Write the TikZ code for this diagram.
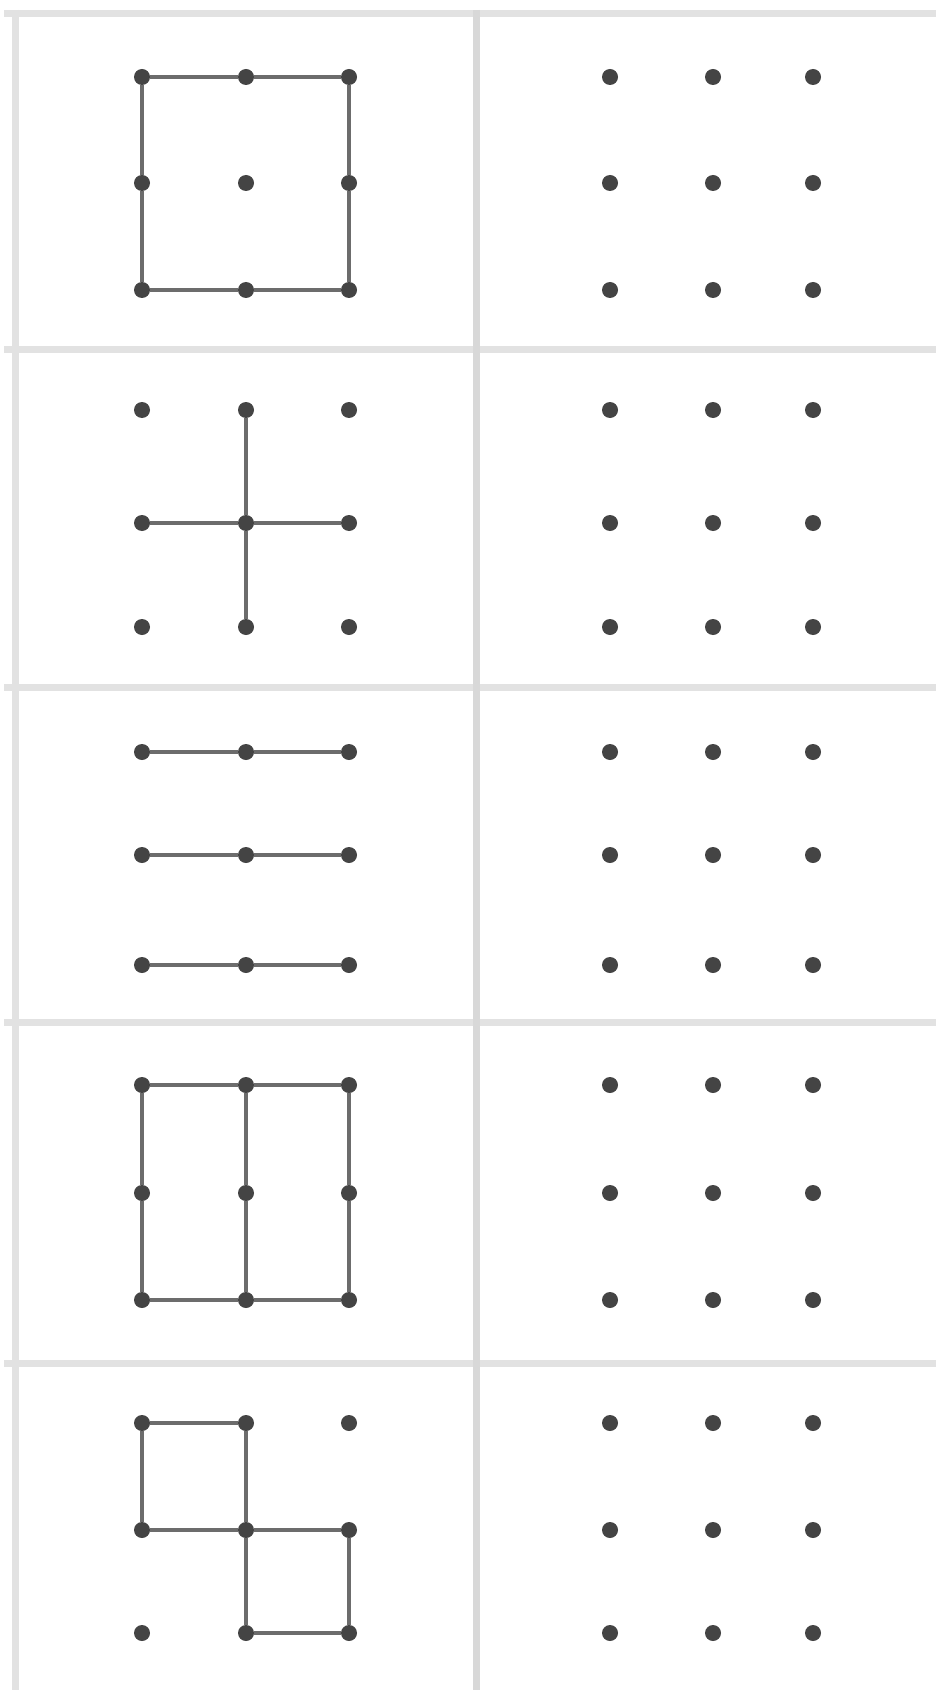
\documentclass[tikz,border=0pt]{standalone}
\definecolor{dotgray}{HTML}{444444}
\definecolor{linkgray}{HTML}{6C6C6C}
\definecolor{rulegray}{HTML}{E2E2E2}
\definecolor{midrule}{HTML}{D8D8D8}
\tikzset{
  dot/.style={circle,fill=dotgray,inner sep=0pt,minimum size=8pt},
  link/.style={draw=linkgray,line width=2.4pt},
  gridrule/.style={draw=rulegray,line width=3.5pt},
}
\begin{document}
\begin{tikzpicture}[x=0.5pt,y=-0.5pt]
\useasboundingbox (0,0) rectangle (936,1690);
\fill[white] (0,0) rectangle (936,1690);
% table rules
\foreach \y in {14,350,687,1022,1363}{
  \draw[gridrule] (4,\y) -- (936,\y);
}
\draw[gridrule] (15,10) -- (15,1690);
\draw[gridrule,draw=midrule] (476,10) -- (476,1690);
% dots
\foreach \r/\ya/\yb/\yc in {1/77/183/290,2/410/523/627,3/752/855/965,4/1085/1193/1300,5/1423/1530/1633}{
  \foreach \j/\xl/\xr in {1/142/610,2/246/713,3/349/813}{
    \node[dot] (L\r-1-\j) at (\xl,\ya) {};
    \node[dot] (L\r-2-\j) at (\xl,\yb) {};
    \node[dot] (L\r-3-\j) at (\xl,\yc) {};
    \node[dot] (R\r-1-\j) at (\xr,\ya) {};
    \node[dot] (R\r-2-\j) at (\xr,\yb) {};
    \node[dot] (R\r-3-\j) at (\xr,\yc) {};
  }
}
% row 1: square
\draw[link] (L1-1-1) -- (L1-1-2) -- (L1-1-3) -- (L1-2-3) -- (L1-3-3) -- (L1-3-2) -- (L1-3-1) -- (L1-2-1) -- (L1-1-1);
% row 2: plus
\draw[link] (L2-1-2) -- (L2-2-2) -- (L2-3-2);
\draw[link] (L2-2-1) -- (L2-2-2) -- (L2-2-3);
% row 3: three horizontals
\foreach \i in {1,2,3}{
  \draw[link] (L3-\i-1) -- (L3-\i-2) -- (L3-\i-3);
}
% row 4
\draw[link] (L4-1-1) -- (L4-1-2) -- (L4-1-3);
\draw[link] (L4-3-1) -- (L4-3-2) -- (L4-3-3);
\foreach \j in {1,2,3}{
  \draw[link] (L4-1-\j) -- (L4-2-\j) -- (L4-3-\j);
}
% row 5: two squares
\draw[link] (L5-2-1) -- (L5-1-1) -- (L5-1-2) -- (L5-2-2) -- (L5-2-1);
\draw[link] (L5-2-2) -- (L5-2-3) -- (L5-3-3) -- (L5-3-2) -- (L5-2-2);
\end{tikzpicture}
\end{document}
